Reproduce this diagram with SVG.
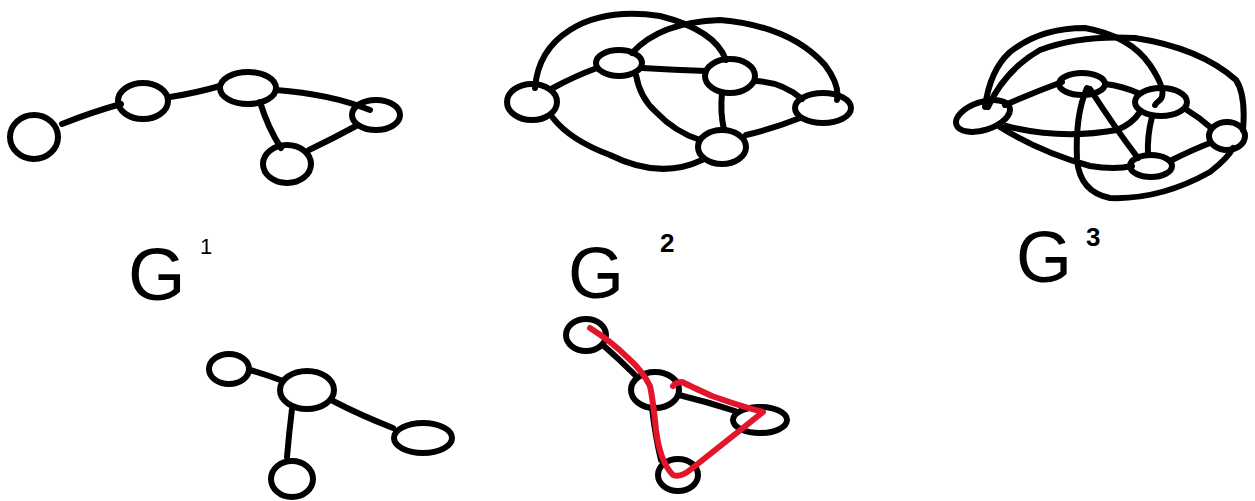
<svg xmlns="http://www.w3.org/2000/svg" width="1255" height="501" viewBox="0 0 1255 501">
  <style>
    .n { fill: none; stroke: #000; stroke-width: 6; }
    .e { fill: none; stroke: #000; stroke-width: 6; stroke-linecap: round; stroke-linejoin: round; }
    .hl { fill: none; stroke: #e3152b; stroke-width: 6; stroke-linecap: round; stroke-linejoin: round; }
    .lbl { font-family: "Liberation Sans", Arial, sans-serif; fill: #000; }
  </style>
  <rect width="1255" height="501" fill="#fff"/>

  <!-- G1: path-like graph with a triangle -->
  <g id="g1-edges">
    <path class="e" d="M62,124 Q92,112 121,104"/>
    <path class="e" d="M170,97 Q196,93 220,86"/>
    <path class="e" d="M276,90 Q330,94 370,110"/>
    <path class="e" d="M260,102 Q268,128 281,148"/>
    <path class="e" d="M309,150 Q332,139 356,126"/>
  </g>
  <g id="g1-a"><ellipse class="n" cx="34" cy="137" rx="24" ry="22"/></g>
  <g id="g1-b"><ellipse class="n" cx="143" cy="101" rx="25" ry="18"/></g>
  <g id="g1-c"><ellipse class="n" cx="248" cy="88" rx="28" ry="16"/></g>
  <g id="g1-d"><ellipse class="n" cx="376" cy="115" rx="24" ry="15"/></g>
  <g id="g1-e"><ellipse class="n" cx="287" cy="164" rx="24" ry="19"/></g>

  <!-- G2 -->
  <g id="g2-edges">
    <path class="e" d="M553,88 Q575,76 597,68"/>
    <path class="e" d="M642,68 Q675,70 706,71"/>
    <path class="e" d="M755,81 Q782,82 802,99"/>
    <path class="e" d="M722,93 Q720,112 724,130"/>
    <path class="e" d="M746,135 Q775,128 800,118"/>
    <path class="e" d="M636,75 Q640,98 656,112 Q675,132 700,140"/>
    <path class="e" d="M553,118 Q570,140 610,155 Q660,180 702,160"/>
    <path class="e" d="M535,88 Q538,50 570,30 Q605,8 660,16 Q715,30 726,60"/>
    <path class="e" d="M632,53 Q660,22 720,20 Q790,26 825,65 Q840,85 837,100"/>
  </g>
  <g id="g2-a"><ellipse class="n" cx="532" cy="102" rx="25" ry="18"/></g>
  <g id="g2-b"><ellipse class="n" cx="619" cy="63" rx="23" ry="13"/></g>
  <g id="g2-c"><ellipse class="n" cx="730" cy="76" rx="25" ry="17"/></g>
  <g id="g2-d"><ellipse class="n" cx="823" cy="108" rx="28" ry="15"/></g>
  <g id="g2-e"><ellipse class="n" cx="722" cy="147" rx="24" ry="17"/></g>

  <!-- G3 -->
  <g id="g3-edges">
    <path class="e" d="M1005,105 Q1035,92 1062,82"/>
    <path class="e" d="M1105,84 Q1122,86 1138,93"/>
    <path class="e" d="M1187,110 Q1200,118 1210,127"/>
    <path class="e" d="M1152,117 Q1147,136 1148,155"/>
    <path class="e" d="M1172,160 Q1192,150 1210,143"/>
    <path class="e" d="M1090,89 Q1115,128 1138,158"/>
    <path class="e" d="M1006,126 Q1060,140 1117,130 Q1132,124 1140,112"/>
    <path class="e" d="M1000,127 Q1040,152 1090,166 Q1115,170 1132,166"/>
    <path class="e" d="M1087,88 Q1075,115 1077,160 Q1080,192 1110,198 Q1160,200 1210,172 Q1228,158 1233,148"/>
    <path class="e" d="M985,107 Q990,70 1010,52 Q1040,28 1085,28 Q1130,36 1150,65 Q1168,92 1160,100 Q1155,104 1155,105"/>
    <path class="e" d="M988,107 Q1005,70 1040,50 Q1080,35 1135,38 Q1200,48 1236,80 Q1246,95 1243,130"/>
  </g>
  <g id="g3-a"><ellipse class="n" cx="983" cy="116" rx="28" ry="14" transform="rotate(-18 983 116)"/></g>
  <g id="g3-b"><ellipse class="n" cx="1082" cy="84" rx="23" ry="11"/></g>
  <g id="g3-c"><ellipse class="n" cx="1161" cy="102" rx="26" ry="14"/></g>
  <g id="g3-d"><ellipse class="n" cx="1227" cy="136" rx="18" ry="14"/></g>
  <g id="g3-e"><ellipse class="n" cx="1151" cy="166" rx="21" ry="11"/></g>

  <!-- power labels -->
  <g id="label-g1">
    <text class="lbl" x="128" y="300" font-size="74">G</text>
    <text class="lbl" x="200" y="254" font-size="22">1</text>
  </g>
  <g id="label-g2">
    <text class="lbl" x="568" y="298" font-size="72">G</text>
    <text class="lbl" x="660" y="252" font-size="26" font-weight="bold">2</text>
  </g>
  <g id="label-g3">
    <text class="lbl" x="1016" y="282" font-size="72">G</text>
    <text class="lbl" x="1086" y="246" font-size="26" font-weight="bold">3</text>
  </g>

  <!-- tree -->
  <g id="t-edges">
    <path class="e" d="M250,370 Q267,375 283,381"/>
    <path class="e" d="M333,401 Q360,415 393,428"/>
    <path class="e" d="M292,409 Q289,433 287,457"/>
  </g>
  <g id="t-a"><ellipse class="n" cx="229" cy="369" rx="20" ry="15"/></g>
  <g id="t-b"><ellipse class="n" cx="307" cy="390" rx="27" ry="19"/></g>
  <g id="t-c"><ellipse class="n" cx="423" cy="438" rx="29" ry="15"/></g>
  <g id="t-d"><ellipse class="n" cx="292" cy="479" rx="21" ry="18"/></g>

  <!-- path graph with highlighted walk -->
  <g id="p-edges">
    <path class="e" d="M604,346 Q620,360 635,375"/>
    <path class="e" d="M679,395 Q708,402 735,411"/>
    <path class="e" d="M652,408 Q655,435 661,460"/>
  </g>
  <g id="p-a"><ellipse class="n" cx="586" cy="335" rx="20" ry="16"/></g>
  <g id="p-b"><ellipse class="n" cx="655" cy="390" rx="24" ry="18"/></g>
  <g id="p-c"><ellipse class="n" cx="760" cy="420" rx="27" ry="13"/></g>
  <g id="p-d"><ellipse class="n" cx="678" cy="475" rx="20" ry="16"/></g>
  <g id="walk">
    <path class="hl" d="M590,328 Q612,342 627,357 Q642,370 650,386 Q653,400 656,430 Q660,462 673,475 Q680,478 690,470 L763,412 Q740,406 712,396 Q690,386 682,382 Q676,382 673,386"/>
  </g>
</svg>
